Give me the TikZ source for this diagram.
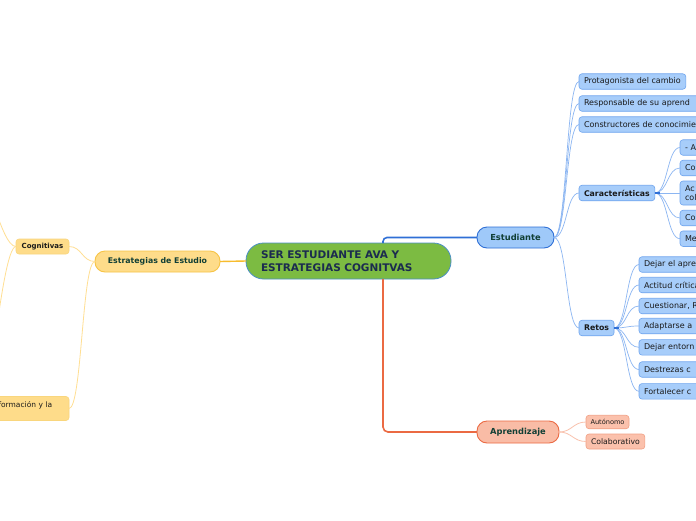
\documentclass[tikz,border=0pt]{standalone}
\usepackage{fontspec}
\setmainfont{DejaVu Sans}
\definecolor{cgreen}{HTML}{7CBB42}
\definecolor{cborder}{HTML}{4A8FC6}
\definecolor{cnavy}{HTML}{1B2B4F}
\definecolor{estfill}{HTML}{9FC9F9}
\definecolor{estdraw}{HTML}{2F6FD6}
\definecolor{bfill}{HTML}{A7CDFA}
\definecolor{bdraw}{HTML}{6FA5EE}
\definecolor{bline}{HTML}{8CB6F2}
\definecolor{aprfill}{HTML}{F9BCA6}
\definecolor{aprdraw}{HTML}{EB6A43}
\definecolor{sfill}{HTML}{FBC1AC}
\definecolor{sdraw}{HTML}{F1A085}
\definecolor{sline}{HTML}{F9C2AE}
\definecolor{yfill}{HTML}{FEDC8A}
\definecolor{ydraw}{HTML}{F7C445}
\definecolor{yline}{HTML}{FFDF93}
\definecolor{ymain}{HTML}{F7BC2E}
\definecolor{maintext}{HTML}{113F35}
\definecolor{leaftext}{HTML}{1A1A1A}
\begin{document}
\begin{tikzpicture}[x=1pt,y=-1pt,
  every node/.style={inner sep=0pt, outer sep=0pt},
  centralbox/.style={rectangle, rounded corners=17.5pt, fill=cgreen, draw=cborder, line width=0.8pt,
    minimum width=205pt, minimum height=36pt, text width=175pt, inner xsep=15pt, align=left,
    font=\fontsize{10.5}{13}\selectfont\bfseries, text=cnavy},
  mainbox/.style={rectangle, rounded corners=10pt, line width=0.9pt, minimum height=21pt,
    font=\fontsize{8.3}{10}\selectfont\bfseries, text=maintext},
  bleaf/.style={rectangle, rounded corners=3pt, fill=bfill, draw=bdraw, line width=0.6pt, anchor=west,
    minimum height=15.5pt, inner xsep=5pt, font=\fontsize{8}{9.6}\selectfont, text=leaftext, align=left},
  yleaf/.style={rectangle, rounded corners=3pt, fill=yfill, draw=ydraw!70, line width=0.6pt,
    inner xsep=5pt, text=leaftext, align=left},
  sleaf/.style={rectangle, rounded corners=3pt, fill=sfill, draw=sdraw, line width=0.6pt, anchor=west,
    inner xsep=4.5pt, text=leaftext},
  mcurve/.style={to path={.. controls ([xshift=#1]\tikztostart) and ([xshift=-#1]\tikztotarget) .. (\tikztotarget)}},
  mcurve/.default=13pt,
  bthin/.style={draw=bline, line width=0.7pt},
  ythin/.style={draw=yline, line width=0.8pt},
  sthin/.style={draw=sline, line width=0.8pt}
]
\clip (0,0) rectangle (696,520);
\fill[white] (0,0) rectangle (696,520);

% central and main branches
\node[centralbox] (central) at (348.5,261) {SER ESTUDIANTE AVA Y\\ESTRATEGIAS COGNITVAS};
\node[mainbox, fill=estfill, draw=estdraw, minimum width=77pt] (est) at (515.5,237.5) {Estudiante};
\node[mainbox, fill=aprfill, draw=aprdraw, minimum width=82pt, minimum height=22pt] (apr) at (518,432) {Aprendizaje};
\node[mainbox, fill=yfill, draw=ydraw, minimum width=125pt, font=\fontsize{7.8}{9}\selectfont\bfseries] (estr) at (157.5,261.5) {Estrategias de Estudio};

\draw[estdraw, line width=1.6pt, rounded corners=4pt] ([xshift=34.5pt]central.north) |- (est.west);
\draw[aprdraw, line width=1.6pt, rounded corners=5pt] ([xshift=34.5pt]central.south) |- (apr.west);
\draw[ymain, line width=1.4pt] (central.west) -- (estr.east);

% Estudiante children
\node[bleaf] (prot) at (579,81.5) {Protagonista del cambio};
\node[bleaf, text width=150pt] (resp) at (579,103.5) {Responsable de su aprend};
\node[bleaf, text width=150pt] (cons) at (579,124.5) {Constructores de conocimien};
\node[bleaf, font=\fontsize{7.8}{9}\selectfont\bfseries] (car) at (579,193) {Características};
\node[bleaf, font=\fontsize{7.8}{9}\selectfont\bfseries] (ret) at (579,328) {Retos};
\foreach \n in {prot,resp,cons,car,ret} \draw[bthin] (est.east) to[mcurve] (\n.west);

% Caracteristicas children
\node[bleaf, text width=60pt] (c1) at (680,147.5) {- A};
\node[bleaf, text width=60pt] (c2) at (680,168) {Co};
\node[bleaf, text width=60pt, minimum height=24pt] (c3) at (680,193) {Ac\\col};
\node[bleaf, text width=60pt] (c4) at (680,218) {Co};
\node[bleaf, text width=60pt] (c5) at (680,238.7) {Me};
\foreach \n in {c1,c2,c3,c4,c5} \draw[bthin] (car.east) to[mcurve] (\n.west);
\draw[estdraw, line width=1.4pt] (car.east) -- ++(5,0);

% Retos children
\node[bleaf, text width=100pt] (r1) at (639,264.5) {Dejar el apre};
\node[bleaf, text width=100pt] (r2) at (639,285) {Actitud crítica};
\node[bleaf, text width=100pt] (r3) at (639,306) {Cuestionar, R};
\node[bleaf, text width=100pt] (r4) at (639,326) {Adaptarse a};
\node[bleaf, text width=100pt] (r5) at (639,347.3) {Dejar entorn};
\node[bleaf, text width=100pt] (r6) at (639,369.5) {Destrezas c};
\node[bleaf, text width=100pt] (r7) at (639,391.3) {Fortalecer c};
\foreach \n in {r1,r2,r3,r4,r5,r6,r7} \draw[bthin] (ret.east) to[mcurve] (\n.west);
\draw[estdraw, line width=1.4pt] (ret.east) -- ++(5,0);

% Aprendizaje children
\node[sleaf, minimum height=13.5pt, font=\fontsize{6.6}{8}\selectfont] (aut) at (586,422) {Autónomo};
\node[sleaf, minimum height=15pt, font=\fontsize{7.7}{9}\selectfont, inner xsep=5pt] (col) at (586,441.5) {Colaborativo};
\foreach \n in {aut,col} \draw[sthin] (apr.east) to[mcurve] (\n.west);

% Estrategias children
\node[yleaf, minimum width=53pt, minimum height=15pt, font=\fontsize{7}{8}\selectfont\bfseries] (cog) at (42.5,246.5) {Cognitivas};
\node[yleaf, anchor=east, text width=65.5pt, minimum height=24pt, font=\fontsize{7.5}{9}\selectfont] (info) at (69,408.5) {formación y la\\\mbox{}};
\draw[ythin] (estr.west) to[mcurve=-13pt] (cog.east);
\draw[ythin] (estr.west) to[mcurve=-13pt] (info.east);
\coordinate (cu) at (-30,160);
\coordinate (cd) at (-30,460);
\draw[ythin] (cog.west) to[mcurve=-16pt] (cu);
\draw[ythin] (cog.west) to[mcurve=-16pt] (cd);
\end{tikzpicture}
\end{document}
